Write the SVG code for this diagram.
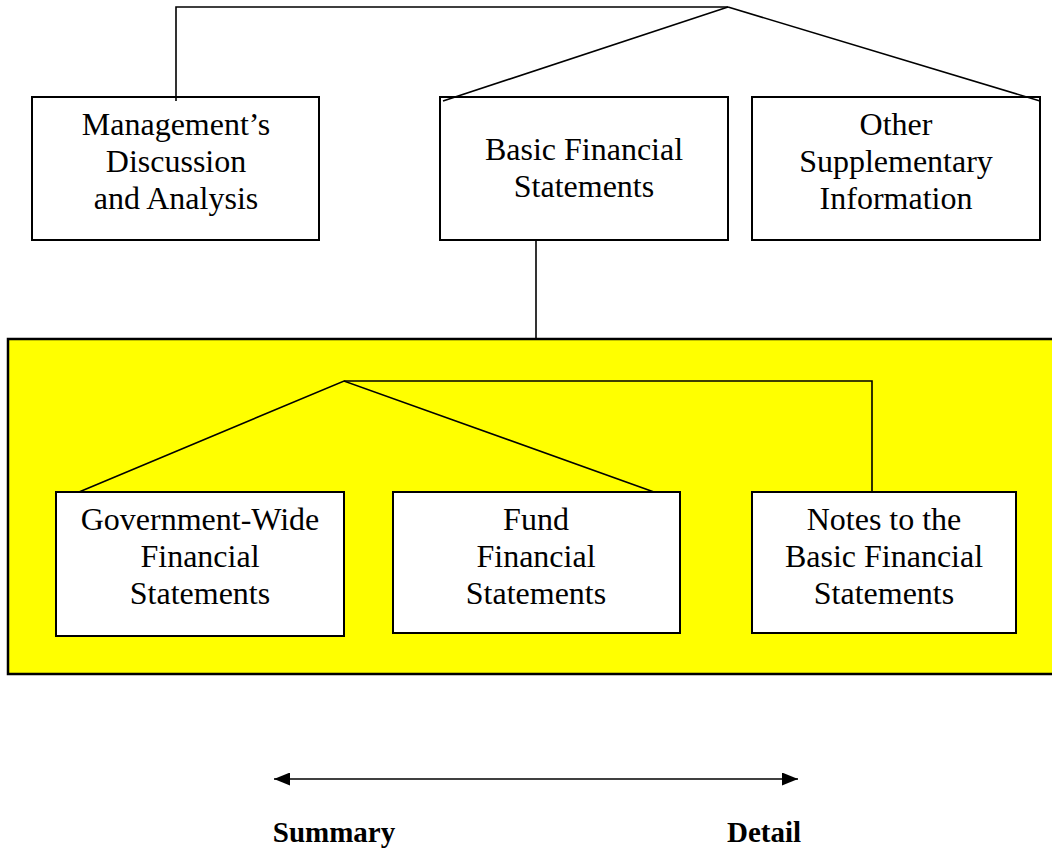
<svg xmlns="http://www.w3.org/2000/svg" width="1052" height="851" viewBox="0 0 1052 851">
<defs>
<style>
.box{fill:#fff;stroke:#000;stroke-width:2}
.t{font-family:"Liberation Serif","Times New Roman",serif;font-size:32px;text-anchor:middle;fill:#000}
.b{font-family:"Liberation Serif","Times New Roman",serif;font-size:29px;font-weight:bold;text-anchor:middle;fill:#000}
.c{fill:none;stroke:#000;stroke-width:1.6}
</style>
<marker id="ah" viewBox="0 0 16 13" refX="16" refY="6.5" markerWidth="16" markerHeight="13" markerUnits="userSpaceOnUse" orient="auto-start-reverse">
<path d="M0,0 L16,6.5 L0,13 Z" fill="#000"/>
</marker>
</defs>
<rect width="1052" height="851" fill="#fff"/>
<g id="basic-container">
<rect x="8" y="339" width="1054" height="335" fill="#ffff00" stroke="#000" stroke-width="2.5"/>
</g>
<g id="mdna">
<rect class="box" x="32" y="97" width="287" height="143"/>
<text class="t" x="176" y="135">Management’s</text>
<text class="t" x="176" y="172">Discussion</text>
<text class="t" x="176" y="209">and Analysis</text>
</g>
<g id="bfs">
<rect class="box" x="440" y="97" width="288" height="143"/>
<text class="t" x="584" y="160">Basic Financial</text>
<text class="t" x="584" y="197">Statements</text>
</g>
<g id="osi">
<rect class="box" x="752" y="97" width="288" height="143"/>
<text class="t" x="896" y="135">Other</text>
<text class="t" x="896" y="172">Supplementary</text>
<text class="t" x="896" y="209">Information</text>
</g>
<g id="gov">
<rect class="box" x="56" y="492" width="288" height="144"/>
<text class="t" x="200" y="530">Government-Wide</text>
<text class="t" x="200" y="567">Financial</text>
<text class="t" x="200" y="604">Statements</text>
</g>
<g id="fund">
<rect class="box" x="393" y="492" width="287" height="141"/>
<text class="t" x="536" y="530">Fund</text>
<text class="t" x="536" y="567">Financial</text>
<text class="t" x="536" y="604">Statements</text>
</g>
<g id="notes">
<rect class="box" x="752" y="492" width="264" height="141"/>
<text class="t" x="884" y="530">Notes to the</text>
<text class="t" x="884" y="567">Basic Financial</text>
<text class="t" x="884" y="604">Statements</text>
</g>
<g id="connectors">
<polyline class="c" points="176,101 176,7 728,7"/>
<line class="c" x1="728" y1="7" x2="443" y2="101"/>
<line class="c" x1="728" y1="7" x2="1040" y2="101"/>
<line class="c" x1="536" y1="240" x2="536" y2="338"/>
<polyline class="c" points="79,492 344,381 654,492"/>
<polyline class="c" points="344,381 872,381 872,492"/>
<line class="c" x1="274" y1="779" x2="798" y2="779" marker-start="url(#ah)" marker-end="url(#ah)"/>
</g>
<g id="scale-labels">
<text class="b" x="334" y="842">Summary</text>
<text class="b" x="764" y="842">Detail</text>
</g>
</svg>
